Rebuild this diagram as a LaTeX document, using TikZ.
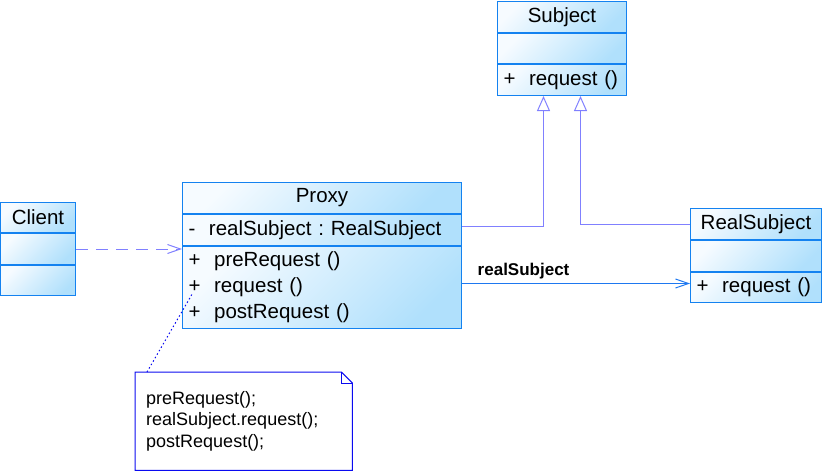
\documentclass[tikz,border=0pt]{standalone}
\usepackage{fontspec}
\setmainfont{Liberation Sans}
\usepackage{tikz}
\usetikzlibrary{arrows.meta}
\usetikzlibrary{positioning}
\usetikzlibrary{calc}
\definecolor{umlborder}{RGB}{20,130,240}
\definecolor{umllight}{RGB}{246,251,255}
\definecolor{umldark}{RGB}{176,224,252}
\definecolor{umllink}{RGB}{128,128,255}
\definecolor{umlassoc}{RGB}{30,120,240}
\definecolor{notecol}{RGB}{10,10,240}
\tikzset{
  % Common styles for class boxes
  >=latex,
  classpart/.style={draw=umlborder, line width=1pt, top color=umllight, bottom color=umldark, shading angle=45, inner xsep=6pt, inner ysep=3pt, font=\fontsize{20.5}{26}\selectfont, anchor=north}
}

\begin{document}
\begin{tikzpicture}[x=1pt, y=-1pt]
    % Define styles
    \tikzstyle{classname} = [classpart, minimum height=31pt]
    \tikzstyle{classbody} = [classpart]
    \tikzstyle{classops} = [classpart, align=left]
    \tikzstyle{notebox} = [inner xsep=11pt, inner ysep=0pt, text width=195pt, minimum height=98pt, align=left, font=\fontsize{18}{21.5}\selectfont]
    \tikzstyle{inherit} = [draw=umllink, line width=1pt, -{Triangle[open, length=15pt, width=13pt]}]
    \tikzstyle{depend} = [draw=umllink, line width=1pt, dash pattern=on 12pt off 8pt, -{Straight Barb[length=13pt, width=9pt]}]
    \tikzstyle{assoc} = [draw=umlassoc, line width=1pt, -{Straight Barb[length=13pt, width=9pt]}]
    \tikzstyle{noteline} = [draw=notecol, line width=1pt, dash pattern=on 1.5pt off 2.5pt]

    \useasboundingbox (0,0) rectangle (822,472);

    % Place nodes
    \node [classname, minimum width=129pt, anchor=north west] (subject) at (497,1) {Subject};
    \node [classbody, minimum width=129pt, minimum height=30pt] (subjectattr) at (subject.south) {};
    \node [classops, text width=117pt, minimum height=31pt] (subjectops) at (subjectattr.south) {+~~request ()};

    \node [classname, minimum width=279pt, anchor=north west] (proxy) at (182,182) {Proxy};
    \node [classbody, text width=267pt, minimum height=31pt, align=left] (proxyattr) at (proxy.south) {-~~realSubject~:~RealSubject};
    \node [classops, text width=267pt, minimum height=82pt] (proxyops) at (proxyattr.south) {+~~preRequest ()\\+~~request ()\\+~~postRequest ()};

    \node [classname, minimum width=75pt, minimum height=30pt, anchor=north west] (client) at (0,202) {Client};
    \node [classbody, minimum width=75pt, minimum height=31pt] (clientattr) at (client.south) {};
    \node [classbody, minimum width=75pt, minimum height=30pt] (clientops) at (clientattr.south) {};

    \node [classname, minimum width=131pt, anchor=north west] (realsub) at (690,208) {RealSubject};
    \node [classbody, minimum width=131pt, minimum height=31pt] (realsubattr) at (realsub.south) {};
    \node [classops, text width=119pt, minimum height=30pt] (realsubops) at (realsubattr.south) {+~~request ()};

    \node [notebox, anchor=north west] (note) at (135,372) {preRequest();\\realSubject.request();\\postRequest();};
    \draw [notecol, line width=1pt] (note.north west) -- ([xshift=-11pt]note.north east) -- ([yshift=-11pt]note.north east) -- (note.south east) -- (note.south west) -- cycle;
    \draw [notecol, line width=1pt] ([xshift=-11pt]note.north east) -- ([xshift=-11pt, yshift=-11pt]note.north east) -- ([yshift=-11pt]note.north east);

    \coordinate (assocend) at ([yshift=4pt]realsubops.west);
    \coordinate (reqmark) at ([xshift=11pt, yshift=-5pt]proxyops.west);

    % Draw edges
    \draw [depend] (clientattr.east) -- (clientattr.east -| proxyops.west);
    \draw [inherit] ([yshift=4pt]proxyattr.east) -| ([xshift=-18.5pt]subjectops.south);
    \draw [inherit] (realsub.west) -| ([xshift=18.5pt]subjectops.south);
    \draw [assoc] (assocend -| proxyops.east) -- node [pos=0.27, above=1pt, font=\bfseries\fontsize{17}{20}\selectfont] {realSubject} (assocend);
    \draw [noteline] ([xshift=12pt]note.north west) -- (reqmark);
\end{tikzpicture}
\end{document}
